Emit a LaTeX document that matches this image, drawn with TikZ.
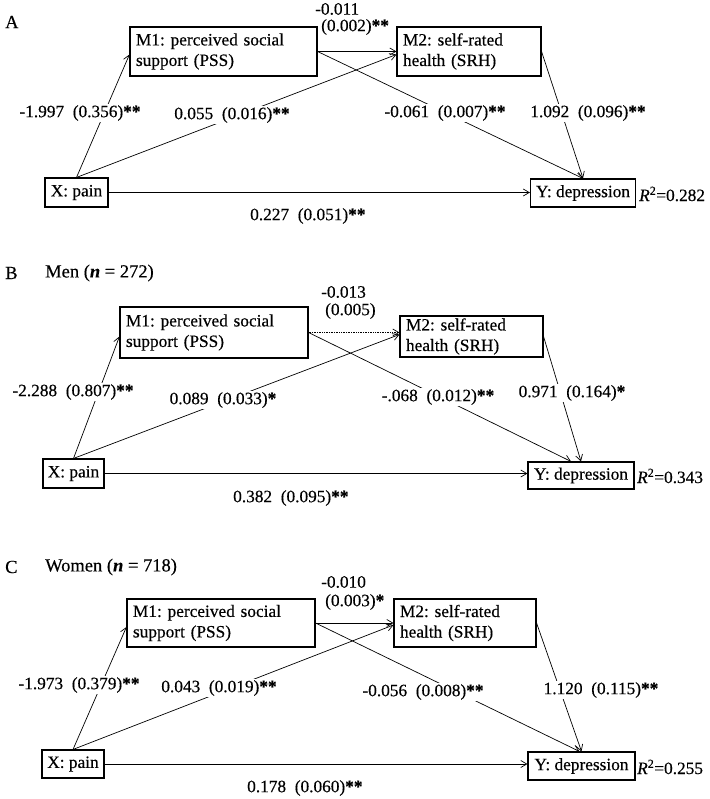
\documentclass[tikz,border=0pt]{standalone}
\usepackage{fontspec}
\setmainfont{Liberation Serif}[FakeBold=0.35]
\usetikzlibrary{arrows.meta}
\newcommand\sig[1]{\textbf{#1}}
\newcommand\rsq[1]{\textit{R}\textsuperscript{2}=#1}
\newcommand\gp{\enspace}
\frenchspacing
\begin{document}
\begin{tikzpicture}[x=1pt,y=-1pt,
  font=\fontsize{17.3}{20.5}\selectfont,
  mbox/.style={draw, line width=1.1pt, inner xsep=6pt, inner ysep=0pt, align=left},
  sbox/.style={draw, line width=1.1pt, inner sep=0pt, align=center},
  arr/.style={-{Straight Barb[length=6pt,width=7pt]}, line width=0.7pt},
  lab/.style={fill=white, inner sep=1.5pt},
  ttl/.style={font=\fontsize{18.5}{22}\selectfont, anchor=west, inner sep=0pt}]
\useasboundingbox (0,0) rectangle (709,799);

% ---------------- Panel A ----------------
\node[ttl] (tA) at (5,22) {A};
\node[mbox, text width=175pt, minimum height=49pt] (m1A) at (223.5,51.5) {M1: perceived social\\support (PSS)};
\node[mbox, text width=132pt, minimum height=49pt] (m2A) at (469,51.5) {M2: self-rated\\health (SRH)};
\node[sbox, minimum width=63pt, minimum height=29pt] (xA) at (76.5,192.5) {X: pain};
\node[sbox, minimum width=105pt, minimum height=28pt] (yA) at (583,193) {Y: depression};
\node[anchor=west, inner sep=0pt] (rA) at (639,194) {\rsq{0.282}};

\draw[arr] (m1A.east) -- (m1A.east -| m2A.west);
\draw[arr] (xA.north) -- ([yshift=-3pt]m1A.west);
\draw[arr] (xA.north) -- ([yshift=-3pt]m2A.west);
\draw[arr] (m1A.east) -- (yA.north);
\draw[arr] (m2A.east) -- (yA.north);
\draw[arr] (xA.east) -- (xA.east -| yA.west);

\node[anchor=west, inner sep=0pt] (a1) at (315,9) {-0.011};
\node[anchor=west, inner sep=0pt] (a2) at (321,27) {(0.002)\sig{**}};
\node[lab] (a3) at (80,113) {-1.997\gp(0.356)\sig{**}};
\node[lab] (a4) at (232,115) {0.055\gp(0.016)\sig{**}};
\node[lab] (a5) at (445,113) {-0.061\gp(0.007)\sig{**}};
\node[lab] (a6) at (588,113) {1.092\gp(0.096)\sig{**}};
\node[anchor=west, inner sep=0pt] (a7) at (250,216) {0.227\gp(0.051)\sig{**}};

% ---------------- Panel B ----------------
\node[ttl] (tB) at (5,273) {B};
\node[ttl] (nB) at (45,273) {Men (\textit{\textbf{n}} = 272)};
\node[mbox, text width=176pt, minimum height=51pt] (m1B) at (214,332.5) {M1: perceived social\\support (PSS)};
\node[mbox, text width=131pt, minimum height=41pt] (m2B) at (471.5,336.5) {M2: self-rated\\health (SRH)};
\node[sbox, minimum width=61pt, minimum height=29pt] (xB) at (73.5,473.5) {X: pain};
\node[sbox, minimum width=106pt, minimum height=27pt] (yB) at (581,475.5) {Y: depression};
\node[anchor=west, inner sep=0pt] (rB) at (637,476) {\rsq{0.343}};

\draw[arr, densely dotted] (m1B.east) -- (m1B.east -| m2B.west);
\draw[arr] (xB.north) -- ([yshift=-4pt]m1B.west);
\draw[arr] (xB.north) -- ([yshift=2pt]m2B.west);
\draw[arr] (m1B.east) -- ([xshift=-10pt]yB.north);
\draw[arr] (m2B.east) -- (yB.north);
\draw[arr] (xB.east) -- (xB.east -| yB.west);

\node[anchor=west, inner sep=0pt] (b1) at (321,292) {-0.013};
\node[anchor=west, inner sep=0pt] (b2) at (325,311) {(0.005)};
\node[lab] (b3) at (73,392) {-2.288\gp(0.807)\sig{**}};
\node[lab] (b4) at (223,400) {0.089\gp(0.033)\sig{*}};
\node[lab] (b5) at (438,397) {-.068\gp(0.012)\sig{**}};
\node[lab] (b6) at (572,393) {0.971\gp(0.164)\sig{*}};
\node[anchor=west, inner sep=0pt] (b7) at (233,498) {0.382\gp(0.095)\sig{**}};

% ---------------- Panel C ----------------
\node[ttl] (tC) at (5,567) {C};
\node[ttl] (nC) at (45,567) {Women (\textit{\textbf{n}} = 718)};
\node[mbox, text width=176pt, minimum height=48pt] (m1C) at (221,623) {M1: perceived social\\support (PSS)};
\node[mbox, text width=130pt, minimum height=48pt] (m2C) at (465,623) {M2: self-rated\\health (SRH)};
\node[sbox, minimum width=62pt, minimum height=28pt] (xC) at (73,764) {X: pain};
\node[sbox, minimum width=107pt, minimum height=28pt] (yC) at (581.5,766) {Y: depression};
\node[anchor=west, inner sep=0pt] (rC) at (637,767) {\rsq{0.255}};

\draw[arr] (m1C.east) -- (m1C.east -| m2C.west);
\draw[arr] (xC.north) -- ([yshift=-4pt]m1C.west);
\draw[arr] (xC.north) -- ([yshift=-2pt]m2C.west);
\draw[arr] (m1C.east) -- ([xshift=-2pt]yC.north);
\draw[arr] (m2C.east) -- (yC.north);
\draw[arr] (xC.east) -- (xC.east -| yC.west);

\node[anchor=west, inner sep=0pt] (c1) at (321,582) {-0.010};
\node[anchor=west, inner sep=0pt] (c2) at (325,602) {(0.003)\sig{*}};
\node[lab] (c3) at (79,685) {-1.973\gp(0.379)\sig{**}};
\node[lab] (c4) at (219,688) {0.043\gp(0.019)\sig{**}};
\node[lab] (c5) at (423,692) {-0.056\gp(0.008)\sig{**}};
\node[lab] (c6) at (601,690) {1.120\gp(0.115)\sig{**}};
\node[anchor=west, inner sep=0pt] (c7) at (247,788) {0.178\gp(0.060)\sig{**}};
\end{tikzpicture}
\end{document}
